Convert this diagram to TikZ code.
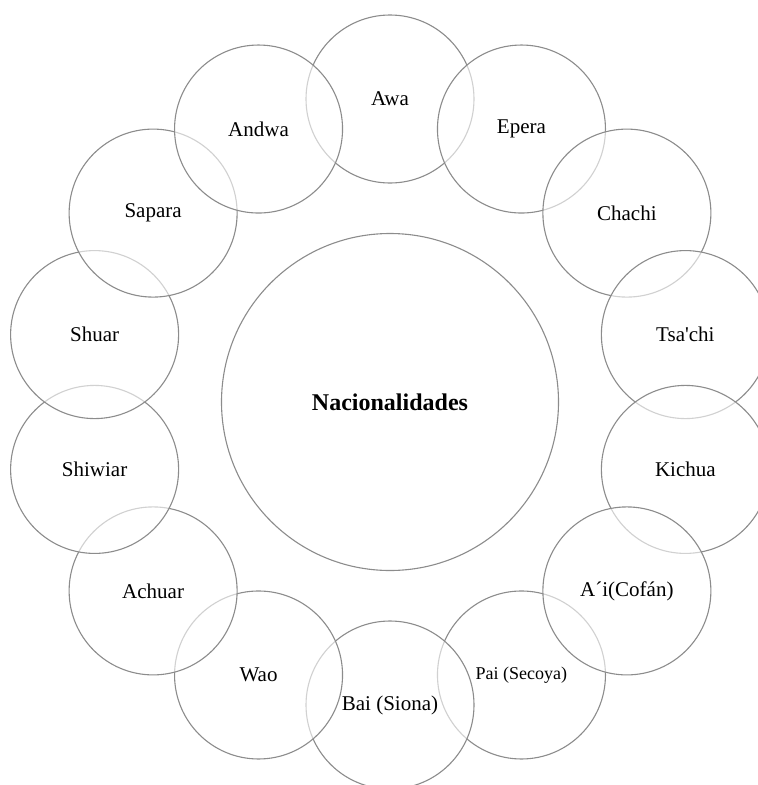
\documentclass[tikz,border=0pt]{standalone}
\usepackage{fontspec}
\setmainfont{Liberation Serif}[Ligatures=TeXOff]

\begin{document}
\begin{tikzpicture}[x=1pt,y=-1pt,
   nacion/.style={circle,draw=black!45,line width=1.1pt,fill=white,fill opacity=.6,
      text opacity=1,minimum size=168pt,inner sep=0pt}]
   \useasboundingbox (0,0) rectangle (758,785);
   \clip (0,0) rectangle (758,785);
   \node[nacion,minimum size=337pt,font=\fontsize{24}{28}\selectfont\bfseries] (centro) at (390,402) {Nacionalidades};
   \begin{scope}[shift={(390,402)}]
     \foreach \k/\nombre/\tam in {0/Awa/21,1/Epera/21,2/Chachi/21,3/Tsa'chi/21,4/Kichua/21,
         6/Pai (Secoya)/18,5/A´i(Cofán)/21,7/Bai (Siona)/21,8/Wao/21,9/Achuar/21,
         10/Shiwiar/21,11/Shuar/21,12/Sapara/21,13/Andwa/21}
       \node[nacion,font=\fontsize{\tam}{\tam}\selectfont] (n\k) at (-90+\k*360/14:303) {\nombre};
   \end{scope}
\end{tikzpicture}
\end{document}
